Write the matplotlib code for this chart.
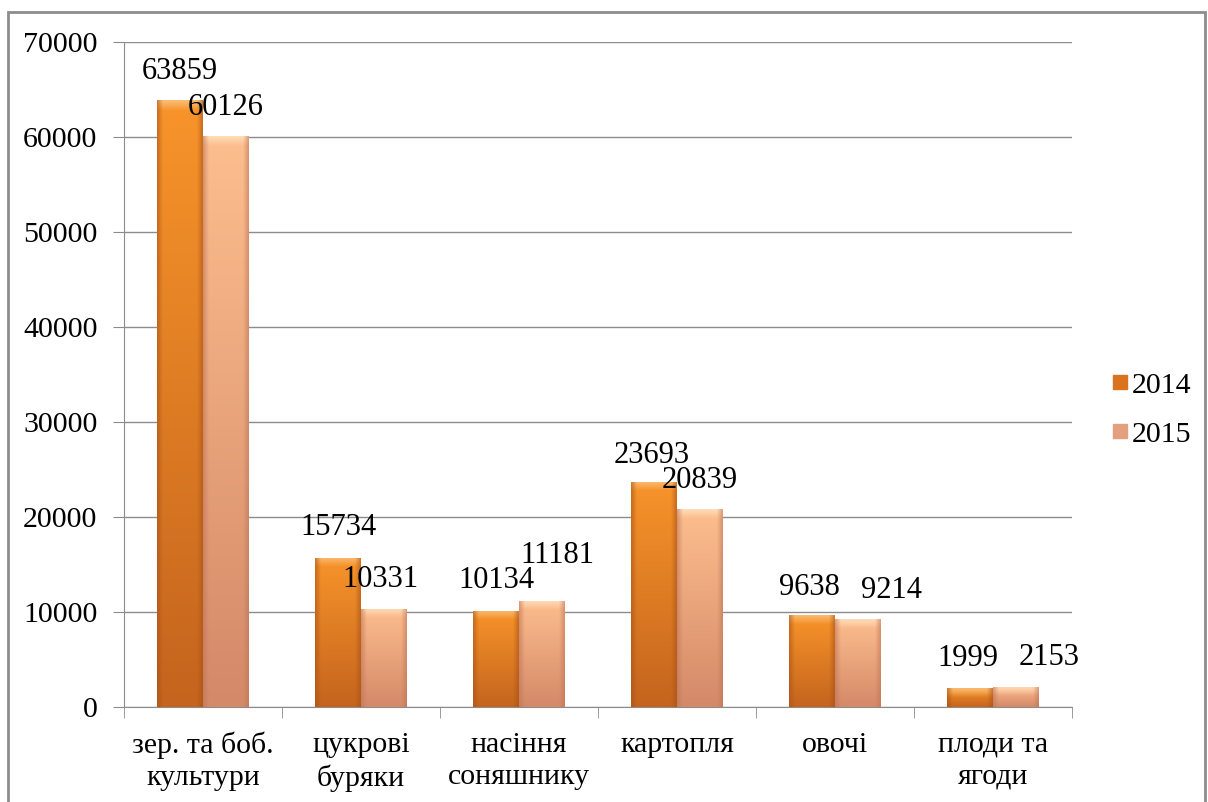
import numpy as np
import matplotlib
matplotlib.use("Agg")
import matplotlib.pyplot as plt
from matplotlib.patches import Rectangle
from matplotlib.lines import Line2D

plt.rcParams['font.family'] = ['Liberation Serif', 'DejaVu Serif']

# data
categories = ['зер. та боб.\nкультури', 'цукрові\nбуряки', 'насіння\nсоняшнику',
              'картопля', 'овочі', 'плоди та\nягоди']
years = ['2014', '2015']
values_2014 = [63859, 15734, 10134, 23693, 9638, 1999]
values_2015 = [60126, 10331, 11181, 20839, 9214, 2153]

# label nudges in pixels (dx, dy above bar top), as placed in the original
nudge_2014 = [(0, 29), (0, 30), (0, 30), (-2, 26), (-3, 28), (-2, 29)]
nudge_2015 = [(0, 28), (-3, 29), (16, 45), (0, 29), (34, 29), (33, 29)]

# bar shading: (top, bottom, highlight, edge)
shades = {
    '2014': ((248, 148, 42), (196, 100, 30), (251, 196, 130), (165, 80, 22)),
    '2015': ((253, 190, 142), (212, 137, 104), (255, 228, 195), (190, 115, 85)),
}
legend_colors = {'2014': '#D9731E', '2015': '#E4A07E'}

fig = plt.figure(figsize=(12.08, 8.02), dpi=100)
ax = fig.add_axes([0.1026, 0.1185, 0.7848, 0.8291])

# outer frame
fig.patches.append(Rectangle((8 / 1208, -0.05), 1197 / 1208, 1.05 - 12 / 802,
                             transform=fig.transFigure, fill=False,
                             edgecolor='#8C8C8C', linewidth=2))

x = np.arange(len(categories))
width = 0.29
px_per_unit = 665 / 70000


def shade_bar(patch, cols):
    top, bottom, hi, edge = [np.array(c, float) / 255 for c in cols]
    x0, y0 = patch.get_xy()
    w, h = patch.get_width(), patch.get_height()
    hp = max(h * px_per_unit, 1)
    ny, nx = 200, 40
    t = np.linspace(0, 1, ny)[:, None, None]
    img = bottom + (top - bottom) * t
    img = np.repeat(img, nx, axis=1)
    # top bevel
    bev = min(9 / hp, 0.5)
    tb = np.linspace(0, 1, ny)
    mask = tb > 1 - bev
    k = ((tb[mask] - (1 - bev)) / bev)[:, None, None]
    img[mask] = img[mask] * (1 - 0.8 * k) + hi * 0.8 * k
    # side edges
    s = np.linspace(0, 1, nx)
    side = np.clip(1 - np.minimum(s, 1 - s) / 0.12, 0, 1)[None, :, None] * 0.55
    img = img * (1 - side) + edge * side
    im = ax.imshow(img, extent=[x0, x0 + w, y0, y0 + h], aspect='auto',
                   origin='lower', zorder=3, interpolation='bilinear')
    im.set_clip_path(patch)


for off, yr, vals, nudges in [(-width / 2, '2014', values_2014, nudge_2014),
                              (width / 2, '2015', values_2015, nudge_2015)]:
    bars = ax.bar(x + off, vals, width, color=legend_colors[yr], zorder=2, linewidth=0)
    for p, v, (dx, dy) in zip(bars, vals, nudges):
        shade_bar(p, shades[yr])
        ax.annotate(str(v), (p.get_x() + p.get_width() / 2, v),
                    xytext=(dx * 0.72, dy * 0.72),
                    textcoords='offset points', ha='center', va='center',
                    fontsize=22, color='black', zorder=5)

ax.set_xlim(-0.5, len(categories) - 0.5)
ax.set_ylim(0, 70000)
ax.set_yticks(np.arange(0, 70001, 10000))
ax.tick_params(axis='y', labelsize=21.5, length=8, color='#8C8C8C', pad=11)
ax.yaxis.grid(True, color='#8C8C8C', linewidth=1)
ax.set_axisbelow(True)

ax.set_xticks(x)
ax.set_xticklabels(categories, fontsize=21.5, linespacing=1.3)
ax.tick_params(axis='x', length=0, pad=18)
ax.set_xticks(np.arange(-0.5, len(categories)), minor=True)
ax.tick_params(axis='x', which='minor', length=8, color='#8C8C8C')

for s in ['top', 'right']:
    ax.spines[s].set_visible(False)
for s in ['left', 'bottom']:
    ax.spines[s].set_color('#8C8C8C')

handles = [Line2D([], [], marker='s', linestyle='', markersize=10,
                  markerfacecolor=legend_colors[y], markeredgecolor=legend_colors[y])
           for y in years]
fig.legend(handles, years, loc='center left', bbox_to_anchor=(0.895, 0.489),
           frameon=False, fontsize=21.5, handletextpad=0.0, labelspacing=0.75,
           handlelength=0.8)

fig.savefig('out.png', dpi=100)
